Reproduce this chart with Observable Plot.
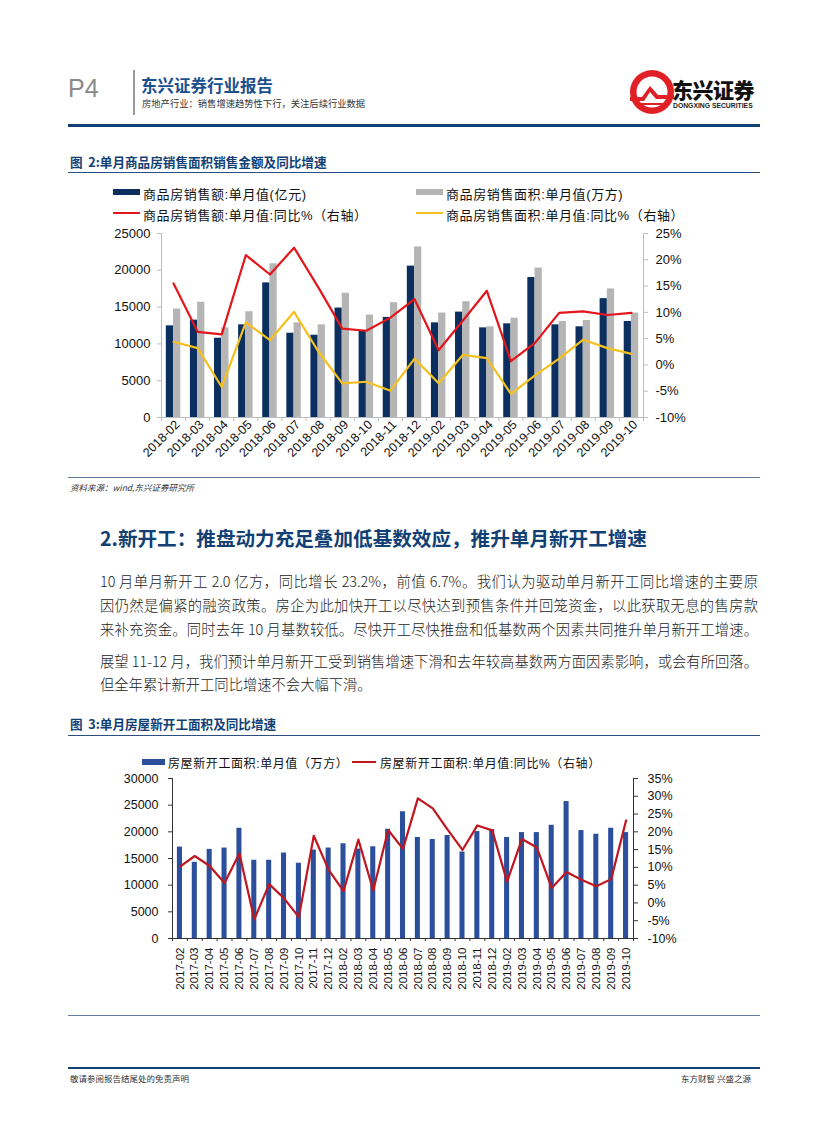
<!DOCTYPE html>
<html><head><meta charset="utf-8">
<script src="https://cdn.jsdelivr.net/npm/d3@7"></script>
<script src="https://cdn.jsdelivr.net/npm/@observablehq/plot@0.6"></script>
<style>
body{margin:0;background:#fff;font-family:"Liberation Sans","Noto Sans CJK SC",sans-serif;}
#page{position:relative;width:827px;height:1122px;overflow:hidden;background:#fff;}
.abs{position:absolute;white-space:nowrap;}
.lh1{line-height:1;}
.cjk{font-family:"Noto Sans CJK SC",sans-serif;}
.figt{font-family:"Noto Sans CJK SC",sans-serif;font-weight:bold;color:#123f74;font-size:12.6px;}
.hl{position:absolute;left:68px;width:692px;}
.para{position:absolute;left:100px;width:658px;font-family:"Noto Sans CJK SC",sans-serif;font-size:14.3px;color:#1a1a1a;text-align:justify;text-align-last:justify;white-space:nowrap;font-weight:300;}
.leg{position:absolute;font-family:"Liberation Sans","Noto Sans CJK SC",sans-serif;font-size:13px;color:#111;white-space:nowrap;letter-spacing:0.6px;}
.sw{position:absolute;}
</style></head><body>
<div id="page">
  <!-- header -->
  <div class="abs" style="left:68px;top:74px;font-size:25px;color:#8a8a8a;font-family:'Liberation Sans';">P4</div>
  <div style="position:absolute;left:133px;top:70px;width:2px;height:45px;background:#9a9a9a;"></div>
  <div class="abs cjk lh1" style="left:141px;top:77px;font-size:16.5px;font-weight:bold;color:#1b4f8d;">东兴证券行业报告</div>
  <div class="abs cjk lh1" style="left:142px;top:99px;font-size:9.3px;color:#333;">房地产行业：销售增速趋势性下行，关注后续行业数据</div>
  <svg style="position:absolute;left:628px;top:68px" width="50" height="50" viewBox="0 0 50 50">
    <circle cx="24" cy="24" r="22" fill="#e01f26"/>
    <circle cx="24" cy="24" r="15.5" fill="#fff"/>
    <path d="M2 29 L14 29 L22 18 L30 27 L46 27 L46 31 L28 31 L22 24 L16 33 L2 33 Z" fill="#e01f26"/>
    <path d="M8 35 L40 35 L40 37 L8 37 Z" fill="#e01f26"/>
  </svg>
  <div class="abs cjk lh1" style="left:672px;top:79px;font-size:21px;font-weight:900;color:#111;letter-spacing:-0.5px;">东兴证券</div>
  <div class="abs lh1" style="left:673px;top:103px;font-size:6.8px;font-weight:bold;color:#222;font-family:'Liberation Sans';">DONGXING SECURITIES</div>
  <div class="hl" style="top:124px;height:3px;background:#123f74;"></div>

  <!-- figure 2 -->
  <div class="abs figt" style="left:70px;top:152px;">图&nbsp; 2:单月商品房销售面积销售金额及同比增速</div>
  <div class="hl" style="top:172px;height:1px;background:#2b4f7e;"></div>
  <div class="sw" style="left:113px;top:189px;width:27px;height:6px;background:#0b3060;"></div>
  <div class="leg" style="left:143px;top:184px;">商品房销售额:单月值(亿元)</div>
  <div class="sw" style="left:416px;top:189px;width:27px;height:6px;background:#b5b5b5;"></div>
  <div class="leg" style="left:446px;top:184px;">商品房销售面积:单月值(万方)</div>
  <div class="sw" style="left:113px;top:212px;width:27px;height:2px;background:#e3161c;"></div>
  <div class="leg" style="left:143px;top:205px;">商品房销售额:单月值:同比%（右轴）</div>
  <div class="sw" style="left:416px;top:212px;width:27px;height:2px;background:#f4c020;"></div>
  <div class="leg" style="left:446px;top:205px;">商品房销售面积:单月值:同比%（右轴）</div>
  <div id="chart1" style="position:absolute;left:100px;top:225px;"></div>
  <div class="hl" style="top:477px;height:1px;background:#5f7d9e;"></div>
  <div class="abs cjk" style="left:70px;top:481px;font-size:8.5px;font-style:italic;color:#333;">资料来源：wind,东兴证券研究所</div>

  <!-- section text -->
  <div class="abs cjk" style="left:100px;top:523px;font-size:19.6px;font-weight:bold;color:#123f74;">2.新开工：推盘动力充足叠加低基数效应，推升单月新开工增速</div>
  <div class="para" style="top:570px;">10 月单月新开工 2.0 亿方，同比增长 23.2%，前值 6.7%。我们认为驱动单月新开工同比增速的主要原</div>
  <div class="para" style="top:594px;">因仍然是偏紧的融资政策。房企为此加快开工以尽快达到预售条件并回笼资金，以此获取无息的售房款</div>
  <div class="para" style="top:618px;">来补充资金。同时去年 10 月基数较低。尽快开工尽快推盘和低基数两个因素共同推升单月新开工增速。</div>
  <div class="para" style="top:650px;">展望 11-12 月，我们预计单月新开工受到销售增速下滑和去年较高基数两方面因素影响，或会有所回落。</div>
  <div class="para" style="top:673px;text-align-last:left;">但全年累计新开工同比增速不会大幅下滑。</div>

  <!-- figure 3 -->
  <div class="abs figt" style="left:70px;top:714px;">图&nbsp; 3:单月房屋新开工面积及同比增速</div>
  <div class="hl" style="top:735px;height:1px;background:#2b4f7e;"></div>
  <div class="sw" style="left:142px;top:759px;width:23px;height:6px;background:#2b4f9c;"></div>
  <div class="leg" style="left:168px;top:754px;font-size:12px;">房屋新开工面积:单月值（万方）</div>
  <div class="sw" style="left:352px;top:761px;width:24px;height:2px;background:#c0161f;"></div>
  <div class="leg" style="left:380px;top:754px;font-size:12px;">房屋新开工面积:单月值:同比%（右轴）</div>
  <div id="chart2" style="position:absolute;left:100px;top:770px;"></div>
  <div class="hl" style="top:1015px;height:1px;background:#5f7d9e;"></div>

  <!-- footer -->
  <div class="hl" style="top:1067px;height:2px;background:#123f74;"></div>
  <div class="abs cjk" style="left:70px;top:1072px;font-size:8.5px;color:#333;">敬请参阅报告结尾处的免责声明</div>
  <div class="abs cjk" style="left:681px;top:1072px;font-size:8.5px;color:#333;">东方财智 兴盛之源</div>
</div>
<script>
// ---------- Figure 2 data ----------
const months1 = ["2018-02","2018-03","2018-04","2018-05","2018-06","2018-07","2018-08","2018-09","2018-10","2018-11","2018-12","2019-02","2019-03","2019-04","2019-05","2019-06","2019-07","2019-08","2019-09","2019-10"];
const salesAmount = [12450,13230,10770,12590,18290,11450,11180,14870,11800,13600,20570,12860,14320,12180,12730,19020,12590,12320,16150,13050];
const salesArea   = [14730,15650,12180,14370,20890,12860,12590,16880,13910,15600,23170,14190,15740,12320,13500,20300,13050,13180,17470,14190];
const amountYoy   = [15.5,6.3,5.8,20.9,17.2,22.3,14.8,6.9,6.5,9.0,12.5,2.8,8.4,14.1,0.7,4.2,9.9,10.2,9.5,9.9];
const areaYoy     = [4.4,3.2,-4.2,8.1,4.7,10.1,2.6,-3.5,-3.2,-4.9,1.2,-3.5,1.9,1.3,-5.5,-2.0,1.2,4.8,3.2,2.1];
const leftTicks1  = [0,5000,10000,15000,20000,25000];
const rightTicks1 = [-10,-5,0,5,10,15,20,25];

// ---------- Figure 3 data ----------
const months2 = ["2017-02","2017-03","2017-04","2017-05","2017-06","2017-07","2017-08","2017-09","2017-10","2017-11","2017-12","2018-02","2018-03","2018-04","2018-05","2018-06","2018-07","2018-08","2018-09","2018-10","2018-11","2018-12","2019-02","2019-03","2019-04","2019-05","2019-06","2019-07","2019-08","2019-09","2019-10"];
const newStarts    = [17140,14290,16710,16960,20670,14670,14670,16030,14110,16580,16960,17760,16770,17200,20480,23760,18940,18560,19310,16210,20050,20420,18940,19860,19860,21230,25680,20240,19550,20670,19860];
const newStartsYoy = [10.2,13.2,10.4,5.6,13.9,-4.6,5.3,1.3,-4.0,18.9,9.3,3.3,17.8,3.5,20.5,15.2,29.4,26.6,20.6,14.9,21.8,20.4,6.0,18.0,15.6,4.2,8.7,6.5,4.7,6.7,23.2];
const leftTicks2  = [0,5000,10000,15000,20000,25000,30000];
const rightTicks2 = [-10,-5,0,5,10,15,20,25,30,35];

const FONT = "'Liberation Sans','Noto Sans CJK SC',sans-serif";

// ---------- Chart 1 ----------
const rows1 = months1.map((m, i) => ({i, m, amt: salesAmount[i], area: salesArea[i], amtYoy: amountYoy[i], areaYoy: areaYoy[i]}));
const pct1 = p => (p + 10) / 35 * 25000;
const idx1 = months1.map((_, i) => i);
const bounds1 = d3.range(-0.5, months1.length, 1);
const c1 = Plot.plot({
  width: 600, height: 270,
  marginLeft: 61, marginRight: 57, marginTop: 8, marginBottom: 78,
  style: {fontFamily: FONT, background: "transparent", overflow: "visible"},
  x: {domain: [-0.5, months1.length - 0.5], axis: null},
  y: {domain: [0, 25000], axis: null},
  marks: [
    Plot.rectY(rows1, {x1: d => d.i - 0.3, x2: d => d.i, y: "amt", fill: "#0b3060"}),
    Plot.rectY(rows1, {x1: d => d.i, x2: d => d.i + 0.3, y: "area", fill: "#b5b5b5"}),
    Plot.line(rows1, {x: "i", y: d => pct1(d.amtYoy), stroke: "#e3161c", strokeWidth: 2.2}),
    Plot.line(rows1, {x: "i", y: d => pct1(d.areaYoy), stroke: "#f4c020", strokeWidth: 2.2}),
    Plot.ruleX([-0.5, months1.length - 0.5], {stroke: "#bdbdbd"}),
    Plot.ruleY([0], {stroke: "#bdbdbd"}),
    Plot.axisY(leftTicks1, {anchor: "left", label: null, tickSize: 4, stroke: "#bdbdbd", tickFormat: () => ""}),
    Plot.axisY(leftTicks1, {anchor: "left", label: null, tickSize: 0, tickPadding: 11, fill: "#111", fontSize: 13, tickFormat: d => String(d)}),
    Plot.axisY(rightTicks1.map(pct1), {anchor: "right", label: null, tickSize: 4, stroke: "#bdbdbd", tickFormat: () => ""}),
    Plot.axisY(rightTicks1.map(pct1), {anchor: "right", label: null, tickSize: 0, tickPadding: 12, fill: "#111", fontSize: 13, tickFormat: d => Math.round(d / 25000 * 35 - 10) + "%"}),
    Plot.axisX(bounds1, {anchor: "bottom", label: null, tickSize: 4, stroke: "#bdbdbd", tickFormat: () => ""}),
    Plot.axisX(idx1, {anchor: "bottom", label: null, tickSize: 0, tickPadding: 5, tickRotate: -45, dx: 4, fill: "#111", fontSize: 12.5, tickFormat: i => months1[i]})
  ]
});
document.getElementById("chart1").appendChild(c1);

// ---------- Chart 2 ----------
const rows2 = months2.map((m, i) => ({i, m, v: newStarts[i], yoy: newStartsYoy[i]}));
const pct2 = p => (p + 10) / 45 * 30000;
const idx2 = months2.map((_, i) => i);
const bounds2 = d3.range(-0.5, months2.length, 1);
const c2 = Plot.plot({
  width: 600, height: 240,
  marginLeft: 72, marginRight: 67, marginTop: 8, marginBottom: 72,
  style: {fontFamily: FONT, background: "transparent", overflow: "visible"},
  x: {domain: [-0.5, months2.length - 0.5], axis: null},
  y: {domain: [0, 30000], axis: null},
  marks: [
    Plot.rectY(rows2, {x1: d => d.i - 0.17, x2: d => d.i + 0.17, y: "v", fill: "#2b4f9c"}),
    Plot.line(rows2, {x: "i", y: d => pct2(d.yoy), stroke: "#c0161f", strokeWidth: 2.2}),
    Plot.ruleX([-0.5, months2.length - 0.5], {stroke: "#333"}),
    Plot.ruleY([0], {stroke: "#333"}),
    Plot.axisY(leftTicks2, {anchor: "left", label: null, tickSize: 4, stroke: "#333", tickFormat: () => ""}),
    Plot.axisY(leftTicks2, {anchor: "left", label: null, tickSize: 0, tickPadding: 14, fill: "#111", fontSize: 12.5, tickFormat: d => String(d)}),
    Plot.axisY(rightTicks2.map(pct2), {anchor: "right", label: null, tickSize: 4, stroke: "#333", tickFormat: () => ""}),
    Plot.axisY(rightTicks2.map(pct2), {anchor: "right", label: null, tickSize: 0, tickPadding: 14, fill: "#111", fontSize: 12.5, tickFormat: d => Math.round(d / 30000 * 45 - 10) + "%"}),
    Plot.axisX(bounds2, {anchor: "bottom", label: null, tickSize: 3, stroke: "#333", tickFormat: () => ""}),
    Plot.axisX(idx2, {anchor: "bottom", label: null, tickSize: 0, tickPadding: 9, tickRotate: -90, fill: "#111", fontSize: 11.5, tickFormat: i => months2[i]})
  ]
});
document.getElementById("chart2").appendChild(c2);
</script>
</body></html>
